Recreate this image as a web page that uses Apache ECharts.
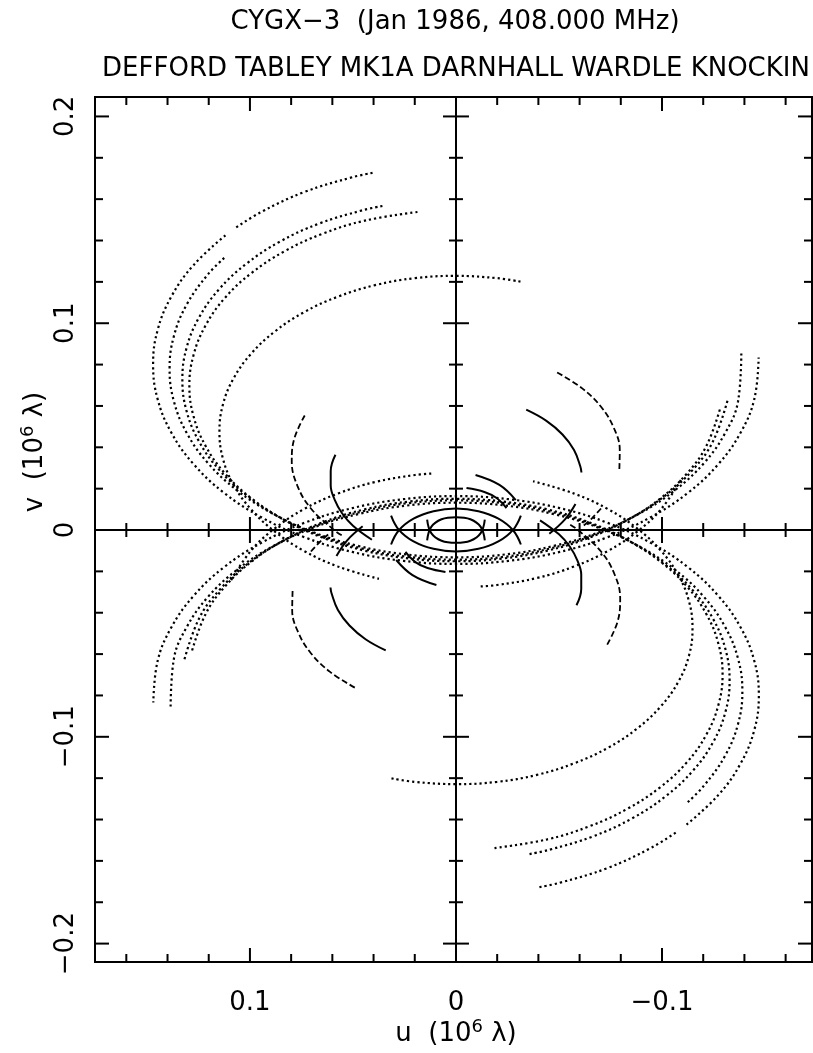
<!DOCTYPE html>
<html><head><meta charset="utf-8">
<script src="https://cdn.jsdelivr.net/npm/echarts@6/dist/echarts.min.js"></script>
<style>html,body{margin:0;padding:0;background:#fff}#c{width:813px;height:1053px}</style>
</head><body><div id="c"></div>
<script>
// ---- axes ----
const uRange = [-0.1728, 0.1752];
const vRange = [-0.2089, 0.2094];
const uMajorTicks = [0.1, 0, -0.1];
const uMinorTicks = [0.16, 0.14, 0.12, 0.08, 0.06, 0.04, 0.02, -0.02, -0.04, -0.06, -0.08, -0.12, -0.14, -0.16];
const vMajorTicks = [0.2, 0.1, 0, -0.1, -0.2];
const vMinorTicks = [0.18, 0.16, 0.14, 0.12, 0.08, 0.06, 0.04, 0.02, -0.02, -0.04, -0.06, -0.08, -0.12, -0.14, -0.16, -0.18];
const uLabels = [0.1, 0, -0.1];
const vLabels = [0.2, 0.1, 0, -0.1, -0.2];

// ---- uv tracks (u, v in 10^6 lambda); each is also drawn at (-u,-v) ----
// long Defford baselines (dotted)
const trackA = [
  [[0.0405,0.1727],[0.0503,0.1706],[0.0735,0.1635],[0.0945,0.1538],[0.1070,0.1461]],
  [[0.1119,0.1425],[0.1273,0.1282],[0.1381,0.1130],[0.1448,0.0967],[0.1470,0.0800],[0.1448,0.0633],[0.1381,0.0470],[0.1273,0.0318],[0.1126,0.0180],[0.0945,0.0062],[0.0735,-0.0035],[0.0503,-0.0106],[0.0255,-0.0149],[0.0,-0.0164],[-0.0255,-0.0149],[-0.0503,-0.0106],[-0.0735,-0.0035],[-0.0945,0.0062],[-0.1126,0.0180],[-0.1273,0.0318],[-0.1381,0.0470],[-0.1448,0.0633],[-0.1469,0.0834]]
];
const trackB = [
  [[0.1125,0.1316],[0.1204,0.1236],[0.1306,0.1092],[0.1369,0.0938],[0.1390,0.0780],[0.1369,0.0622],[0.1306,0.0468],[0.1204,0.0324],[0.1065,0.0194],[0.0893,0.0081],[0.0695,-0.0010],[0.0475,-0.0077],[0.0241,-0.0118],[0.0,-0.0132],[-0.0241,-0.0118],[-0.0475,-0.0077],[-0.0695,-0.0010],[-0.0893,0.0081],[-0.1065,0.0194],[-0.1204,0.0324],[-0.1306,0.0468],[-0.1369,0.0622],[-0.1385,0.0860]]
];
const trackC = [
  [[0.0357,0.1567],[0.0454,0.1546],[0.0664,0.1482],[0.0854,0.1395],[0.1017,0.1288],[0.1150,0.1164],[0.1248,0.1026],[0.1308,0.0879],[0.1328,0.0728],[0.1308,0.0577],[0.1248,0.0430],[0.1150,0.0292],[0.1017,0.0168],[0.0854,0.0061],[0.0664,-0.0026],[0.0454,-0.0090],[0.0231,-0.0130],[0.0,-0.0143],[-0.0231,-0.0130],[-0.0454,-0.0090],[-0.0664,-0.0026],[-0.0854,0.0061],[-0.1017,0.0168],[-0.1150,0.0292],[-0.1248,0.0430],[-0.1321,0.0637]]
];
const trackD = [
  [[0.0187,0.1538],[0.0443,0.1496],[0.0647,0.1433],[0.0832,0.1348],[0.0991,0.1244],[0.1121,0.1123],[0.1216,0.0988],[0.1274,0.0845],[0.1294,0.0698],[0.1274,0.0551],[0.1216,0.0408],[0.1121,0.0273],[0.0991,0.0152],[0.0832,0.0048],[0.0647,-0.0037],[0.0443,-0.0100],[0.0225,-0.0138],[0.0,-0.0151],[-0.0225,-0.0138],[-0.0443,-0.0100],[-0.0647,-0.0037],[-0.0832,0.0048],[-0.0991,0.0152],[-0.1121,0.0273],[-0.1216,0.0408],[-0.1284,0.0594]]
];
const trackE = [
  [[-0.0313,0.1201],[-0.0199,0.1218],[0.0,0.1229],[0.0199,0.1218],[0.0393,0.1184],[0.0574,0.1128],[0.0738,0.1053],[0.0879,0.0960],[0.0994,0.0853],[0.1079,0.0734],[0.1131,0.0607],[0.1148,0.0476],[0.1131,0.0345],[0.1079,0.0218],[0.0994,0.0099],[0.0879,-0.0008],[0.0738,-0.0101],[0.0574,-0.0176],[0.0374,-0.0236]],
  [[-0.0120,-0.0273],[-0.0199,-0.0266],[-0.0393,-0.0232],[-0.0574,-0.0176],[-0.0738,-0.0101],[-0.0879,-0.0008],[-0.0994,0.0099],[-0.1092,0.0243]]
];
// Knockin baselines
const trackP = [  // solid
  [[-0.0341,0.0582],[-0.0439,0.0528],[-0.0517,0.0462],[-0.0573,0.0387],[-0.0604,0.0306],[-0.0609,0.0278]],
  [[-0.0580,0.0126],[-0.0528,0.0050],[-0.0453,-0.0018]],
  [[0.0585,0.0364],[0.0608,0.0285],[0.0608,0.0215],[0.0589,0.0147],[0.0553,0.0081],[0.0500,0.0021],[0.0408,-0.0047]]
];
const trackQ = [  // dashed
  [[-0.0491,0.0762],[-0.0611,0.0686],[-0.0704,0.0596],[-0.0766,0.0494],[-0.0795,0.0387],[-0.0793,0.0295]],
  [[-0.0704,0.0104],[-0.0661,0.0058],[-0.0611,0.0014]],
  [[0.0734,0.0554],[0.0785,0.0441],[0.0797,0.0332],[0.0770,0.0215],[0.0704,0.0104],[0.0592,0.0000],[0.0554,-0.0026]]
];
// short Cheshire baselines (solid)
const trackS = [
  [[0.0290,-0.0145],[0.0211,-0.0218],[0.0095,-0.0266]],
  [[-0.0051,0.0203],[-0.0138,0.0184],[-0.0197,0.0155],[-0.0245,0.0106]]
];
const trackL = [
  [[0.0315,0.0070],[0.0277,0.0001],[0.0206,-0.0055],[0.0109,-0.0091],[0.0,-0.0104],[-0.0109,-0.0091],[-0.0206,-0.0055],[-0.0277,0.0001],[-0.0315,0.0070]]
];
const trackI = [
  [[0.0140,0.0050],[0.0120,-0.0015],[0.0070,-0.0052],[0.0,-0.0062],[-0.0070,-0.0052],[-0.0120,-0.0015],[-0.0140,0.0050]]
];

const DOT = {type:[2.2,3.0], width:2.2};
const DASH = {type:[6,3], width:1.8};
const SOLID = {type:'solid', width:2};
const tracks = [
  [trackA, DOT],[trackB, DOT],[trackC, DOT],[trackD, DOT],[trackE, DOT],
  [trackP, SOLID],[trackQ, DASH],[trackS, SOLID],[trackL, SOLID],[trackI, SOLID]
];

const series = [];
tracks.forEach(([segs, ls]) => {
  segs.forEach(seg => {
    [seg, seg.map(p => [-p[0], -p[1]])].forEach(d => {
      series.push({
        type:'line', data:d, symbol:'none', showSymbol:false, smooth:0.4,
        silent:true, animation:false, clip:true,
        lineStyle:{color:'#000', width:ls.width, type:ls.type, cap:'butt'}, z:3
      });
    });
  });
});

// zero axes
series.push({
  type:'line', data:[], silent:true, animation:false,
  markLine:{silent:true, symbol:'none', animation:false, label:{show:false},
    lineStyle:{color:'#000', width:2, type:'solid'},
    data:[{xAxis:0},{yAxis:0}]}
});

function tickLine(x1,y1,x2,y2){return {type:'line', shape:{x1,y1,x2,y2}, style:{stroke:'#000', lineWidth:2}};}
function uTickSeries(vals, frameLen, crossLen){
  return {type:'custom', coordinateSystem:'cartesian2d', silent:true, animation:false, z:4,
    data: vals.map(t => [t, 0]),
    renderItem:(params, api) => {
      const cs = params.coordSys;
      const p = api.coord([api.value(0), 0]);
      const x = p[0], yc = p[1], yt = cs.y, yb = cs.y + cs.height;
      const ch = [tickLine(x, yb, x, yb - frameLen), tickLine(x, yt, x, yt + frameLen)];
      if (api.value(0) !== 0) ch.push(tickLine(x, yc - crossLen, x, yc + crossLen));
      return {type:'group', children:ch};
    }};
}
function vTickSeries(vals, frameLen, crossLen){
  return {type:'custom', coordinateSystem:'cartesian2d', silent:true, animation:false, z:4,
    data: vals.map(t => [0, t]),
    renderItem:(params, api) => {
      const cs = params.coordSys;
      const p = api.coord([0, api.value(1)]);
      const y = p[1], xc = p[0], xl = cs.x, xr = cs.x + cs.width;
      const ch = [tickLine(xl, y, xl + frameLen, y), tickLine(xr, y, xr - frameLen, y)];
      if (api.value(1) !== 0) ch.push(tickLine(xc - crossLen, y, xc + crossLen, y));
      return {type:'group', children:ch};
    }};
}
series.push(uTickSeries(uMajorTicks, 14, 13));
series.push(uTickSeries(uMinorTicks, 8, 7));
series.push(vTickSeries(vMajorTicks, 14, 13));
series.push(vTickSeries(vMinorTicks, 8, 7));

const fmt = v => v === 0 ? '0' : (v < 0 ? '\u2212' + String(-v) : String(v));
const FONT = 'DejaVu Sans';

const chart = echarts.init(document.getElementById('c'), null, {renderer:'canvas'});
chart.setOption({
  animation:false,
  backgroundColor:'#fff',
  grid:{left:95, right:1, top:97, bottom:91, show:true, borderColor:'#000', borderWidth:2, backgroundColor:'transparent'},
  xAxis:{type:'value', inverse:true, min:uRange[0], max:uRange[1],
    axisLine:{show:false}, axisTick:{show:false}, splitLine:{show:false},
    axisLabel:{customValues:uLabels, formatter:fmt, color:'#000', fontFamily:FONT, fontSize:26, margin:28}},
  yAxis:{type:'value', min:vRange[0], max:vRange[1],
    axisLine:{show:false}, axisTick:{show:false}, splitLine:{show:false},
    axisLabel:{customValues:vLabels, formatter:fmt, rotate:90, color:'#000', fontFamily:FONT, fontSize:26, margin:16}},
  graphic:[
    {type:'text', x:455, y:22, style:{text:'CYGX\u22123  (Jan 1986, 408.000 MHz)', font:'26px "DejaVu Sans"', fill:'#000', align:'center', verticalAlign:'middle', textAlign:'center', textVerticalAlign:'middle'}},
    {type:'text', x:456, y:69, style:{text:'DEFFORD TABLEY MK1A DARNHALL WARDLE KNOCKIN', font:'26px "DejaVu Sans"', fill:'#000', align:'center', verticalAlign:'middle', textAlign:'center', textVerticalAlign:'middle'}},
    {type:'text', x:456, y:1034, style:{text:'{a|u  (10}{s|6}{a| \u03bb)}', fill:'#000', align:'center', verticalAlign:'middle', textAlign:'center', textVerticalAlign:'middle',
      rich:{a:{fontFamily:FONT, fontSize:26, fill:'#000'}, s:{fontFamily:FONT, fontSize:18, fill:'#000', verticalAlign:'top', padding:[0,0,14,0]}}}},
    {type:'text', x:35, y:452, rotation:Math.PI/2, style:{text:'{a|v  (10}{s|6}{a| \u03bb)}', fill:'#000', align:'center', verticalAlign:'middle', textAlign:'center', textVerticalAlign:'middle',
      rich:{a:{fontFamily:FONT, fontSize:26, fill:'#000'}, s:{fontFamily:FONT, fontSize:18, fill:'#000', verticalAlign:'top', padding:[0,0,14,0]}}}}
  ],
  series:series
});
</script></body></html>
